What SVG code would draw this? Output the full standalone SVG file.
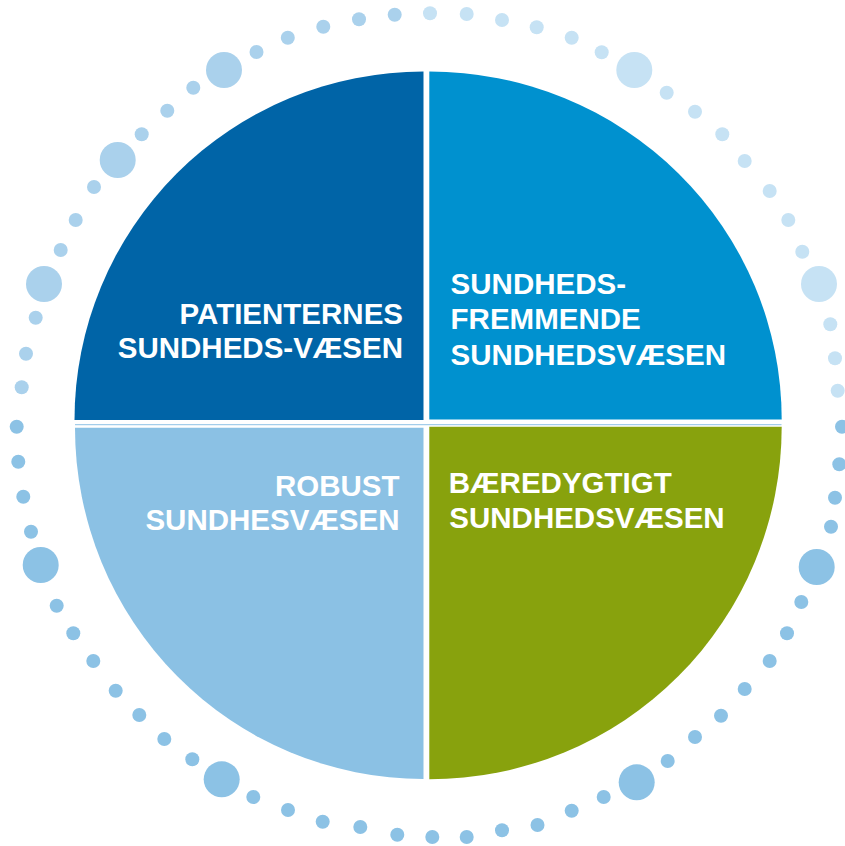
<svg xmlns="http://www.w3.org/2000/svg" width="845" height="846" viewBox="0 0 845 846">
<style>
.lbl{font-family:"Liberation Sans",Arial,Helvetica,sans-serif;font-weight:bold;font-size:29.5px;fill:#ffffff}
.da{fill:#aad1ec}
.db{fill:#c6e2f4}
.dc{fill:#8cc2e5}
</style>
<defs>
<circle id="s" r="7"/>
<circle id="l" r="18"/>
</defs>
<rect width="845" height="846" fill="#ffffff"/>
<g id="dots">
<g class="da">
<use href="#s" x="21.7" y="387.3"/><use href="#s" x="26" y="353.7"/><use href="#s" x="35.7" y="317.7"/>
<use href="#l" x="44" y="284"/>
<use href="#s" x="60.7" y="250"/><use href="#s" x="75.7" y="220"/><use href="#s" x="94" y="187"/>
<use href="#l" x="117.7" y="160"/>
<use href="#s" x="141.7" y="134.3"/><use href="#s" x="167.3" y="110.7"/><use href="#s" x="193.3" y="87.7"/>
<use href="#l" x="224" y="70"/>
<use href="#s" x="256.5" y="52"/><use href="#s" x="287.8" y="37.7"/><use href="#s" x="323.3" y="26.7"/><use href="#s" x="359" y="19.3"/><use href="#s" x="394.7" y="14.7"/>
</g>
<g class="db">
<use href="#s" x="430" y="13.3"/><use href="#s" x="466.7" y="14"/><use href="#s" x="502" y="20"/><use href="#s" x="536.7" y="27.3"/><use href="#s" x="571.7" y="37.7"/><use href="#s" x="601.7" y="52.3"/>
<use href="#l" x="634.3" y="70"/>
<use href="#s" x="666.7" y="92.7"/><use href="#s" x="695" y="111.7"/><use href="#s" x="722.3" y="134.3"/><use href="#s" x="744.7" y="161"/><use href="#s" x="769.7" y="191"/><use href="#s" x="788.3" y="220"/><use href="#s" x="802.3" y="251.7"/>
<use href="#l" x="819" y="284"/>
<use href="#s" x="830.3" y="324.3"/><use href="#s" x="835" y="358.3"/><use href="#s" x="837.7" y="390.7"/>
</g>
<g class="dc">
<use href="#s" x="16.7" y="426.7"/><use href="#s" x="18.3" y="461.7"/><use href="#s" x="23.3" y="496.7"/><use href="#s" x="31" y="531.7"/>
<use href="#l" x="40.7" y="565"/>
<use href="#s" x="56.7" y="605.7"/><use href="#s" x="73.3" y="633.3"/><use href="#s" x="93.3" y="661"/><use href="#s" x="115.7" y="690.7"/><use href="#s" x="139.3" y="715"/><use href="#s" x="164.3" y="739"/><use href="#s" x="192.3" y="759.3"/>
<use href="#l" x="221.7" y="779.3"/>
<use href="#s" x="253.3" y="797"/><use href="#s" x="288" y="810"/><use href="#s" x="322.7" y="821.7"/><use href="#s" x="360.3" y="827"/><use href="#s" x="397.3" y="834.7"/><use href="#s" x="432.3" y="837"/><use href="#s" x="466.7" y="837"/><use href="#s" x="502" y="830.3"/><use href="#s" x="537.5" y="825"/><use href="#s" x="571.7" y="810.7"/><use href="#s" x="603.7" y="797"/>
<use href="#l" x="636.7" y="782.3"/>
<use href="#s" x="667.7" y="761"/><use href="#s" x="695" y="737"/><use href="#s" x="721" y="715.7"/><use href="#s" x="744.7" y="689"/><use href="#s" x="769.7" y="661"/><use href="#s" x="787" y="633.3"/><use href="#s" x="801.3" y="602"/>
<use href="#l" x="816.7" y="567"/>
<use href="#s" x="831" y="526.7"/><use href="#s" x="835" y="497.7"/><use href="#s" x="839.3" y="464.3"/><use href="#s" x="842" y="426.7"/>
</g>
</g>
<line x1="75" y1="424.6" x2="781.5" y2="424.6" stroke="#a3cdea" stroke-width="1.3"/>
<g id="patienternes">
<path d="M423.5,420 L74.5,420 A349,348.5 0 0 1 423.5,71.5 Z" fill="#0064a7"/>
<text class="lbl" text-anchor="end"><tspan x="403" y="324.3">PATIENTERNES</tspan><tspan x="403" y="358.3">SUNDHEDS-VÆSEN</tspan></text>
</g>
<g id="sundhedsfremmende">
<path d="M429.3,419.5 L429.3,71.5 A352.4,348 0 0 1 781.7,419.5 Z" fill="#0091cf"/>
<text class="lbl"><tspan x="450.6" y="294.3">SUNDHEDS-</tspan><tspan x="450.6" y="329.3">FREMMENDE</tspan><tspan x="450.6" y="365">SUNDHEDSVÆSEN</tspan></text>
</g>
<g id="robust">
<path d="M423.5,427.7 L423.5,779 A348.5,351.3 0 0 1 75,427.7 Z" fill="#8bc1e4"/>
<text class="lbl" text-anchor="end"><tspan x="399.5" y="495.7">ROBUST</tspan><tspan x="399.5" y="529.7">SUNDHESVÆSEN</tspan></text>
</g>
<g id="baeredygtigt">
<path d="M429.3,426.7 L781.7,426.7 A352.4,352.6 0 0 1 429.3,779.3 Z" fill="#88a20d"/>
<text class="lbl"><tspan x="448.8" y="493.3">BÆREDYGTIGT</tspan><tspan x="449.3" y="528.3">SUNDHEDSVÆSEN</tspan></text>
</g>
</svg>
